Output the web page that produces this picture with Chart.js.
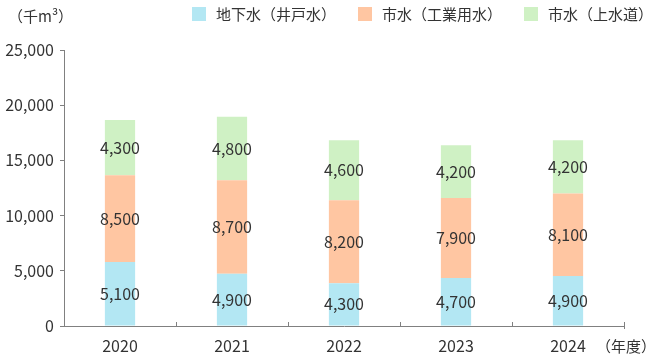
<!DOCTYPE html>
<html><head><meta charset="utf-8">
<script src="https://cdn.jsdelivr.net/npm/chart.js@4/dist/chart.umd.min.js"></script>
<style>html,body{margin:0;padding:0;background:#fff}#wrap{width:660px;height:358px}</style>
</head><body><div id="wrap"><canvas id="c" width="660" height="358"></canvas></div>
<script>
const years = ['2020', '2021', '2022', '2023', '2024'];
const seriesNames = ['地下水（井戸水）', '市水（工業用水）', '市水（上水道）'];
// bar heights as drawn (千m³)
const groundwater = [5790, 4740, 3880, 4340, 4520];
const industrial = [7870, 8460, 7510, 7260, 7480];
const waterworks = [4990, 5750, 5440, 4780, 4830];
// printed value labels
const groundwaterLabels = [5100, 4900, 4300, 4700, 4900];
const industrialLabels = [8500, 8700, 8200, 7900, 8100];
const waterworksLabels = [4300, 4800, 4600, 4200, 4200];
const yTicks = [0, 5000, 10000, 15000, 20000, 25000];
const unitLabel = '（千m³）';
const xUnitLabel = '（年度）';

const colors = ['#b3e7f3', '#ffc6a2', '#cff1c4'];
const FONT = '"Noto Sans CJK JP", "Noto Sans", sans-serif';
const TXT = '#333333';
const AXIS = '#808080';
const labelSets = [groundwaterLabels, industrialLabels, waterworksLabels];
const fmt = v => v.toLocaleString('en-US');

const extras = {
  id: 'extras',
  afterDatasetsDraw(chart) {
    const ctx = chart.ctx;
    ctx.save();
    ctx.fillStyle = TXT;
    ctx.font = '16px ' + FONT;
    ctx.textAlign = 'center';
    ctx.textBaseline = 'middle';
    chart.data.datasets.forEach((ds, i) => {
      const meta = chart.getDatasetMeta(i);
      meta.data.forEach((el, j) => {
        const p = el.getProps(['x', 'y', 'base'], true);
        ctx.fillText(fmt(labelSets[i][j]), p.x, (p.y + p.base) / 2);
      });
    });
    ctx.restore();
  },
  afterDraw(chart) {
    const ctx = chart.ctx;
    ctx.save();
    ctx.fillStyle = TXT;
    ctx.font = '15px ' + FONT;
    ctx.textBaseline = 'middle';
    ctx.textAlign = 'left';
    ctx.fillText(unitLabel, 8, 16);
    ctx.fillText(xUnitLabel, 596, 346);
    // legend (right aligned)
    const items = chart.data.datasets.map((d, i) => ({ text: d.label, color: d.backgroundColor }));
    const box = 14, gap = 10, space = 22;
    const widths = items.map(it => box + gap + ctx.measureText(it.text).width);
    const total = widths.reduce((a, b) => a + b, 0) + space * (items.length - 1);
    let x = 653 - total;
    items.forEach((it, i) => {
      ctx.fillStyle = it.color;
      ctx.fillRect(x, 7, box, box);
      ctx.fillStyle = TXT;
      ctx.fillText(it.text, x + box + gap, 14.5);
      x += widths[i] + space;
    });
    // end tick of x axis
    const xa = chart.scales.x;
    ctx.strokeStyle = AXIS;
    ctx.lineWidth = 1;
    ctx.beginPath();
    ctx.moveTo(Math.round(xa.right) + 0.5, xa.top - 4);
    ctx.lineTo(Math.round(xa.right) + 0.5, xa.top + 3);
    ctx.stroke();
    ctx.restore();
  }
};

new Chart(document.getElementById('c'), {
  type: 'bar',
  data: {
    labels: years,
    datasets: [
      { label: seriesNames[0], data: groundwater, backgroundColor: colors[0] },
      { label: seriesNames[1], data: industrial, backgroundColor: colors[1] },
      { label: seriesNames[2], data: waterworks, backgroundColor: colors[2] }
    ]
  },
  options: {
    responsive: false,
    animation: false,
    devicePixelRatio: 1,
    layout: { padding: { top: 50, right: 36, left: 0, bottom: 0 } },
    datasets: { bar: { barPercentage: 1, categoryPercentage: 0.27 } },
    plugins: { legend: { display: false }, tooltip: { enabled: false } },
    scales: {
      x: {
        stacked: true,
        border: { color: AXIS, width: 1 },
        grid: { offset: true, drawOnChartArea: false, drawTicks: true, tickLength: -4, color: AXIS },
        ticks: { color: TXT, font: { family: FONT, size: 16 }, padding: 14 },
        afterFit(s) { s.height = 32; }
      },
      y: {
        stacked: true,
        min: 0, max: 25000,
        border: { color: AXIS, width: 1 },
        grid: { drawOnChartArea: false, drawTicks: true, tickLength: 4, color: AXIS },
        afterBuildTicks(s) { s.ticks = yTicks.map(v => ({ value: v })); },
        ticks: { color: TXT, font: { family: FONT, size: 16 }, padding: 6, callback: v => fmt(v) },
        afterFit(s) { s.width = 64; }
      }
    }
  },
  plugins: [extras]
});
</script></body></html>
